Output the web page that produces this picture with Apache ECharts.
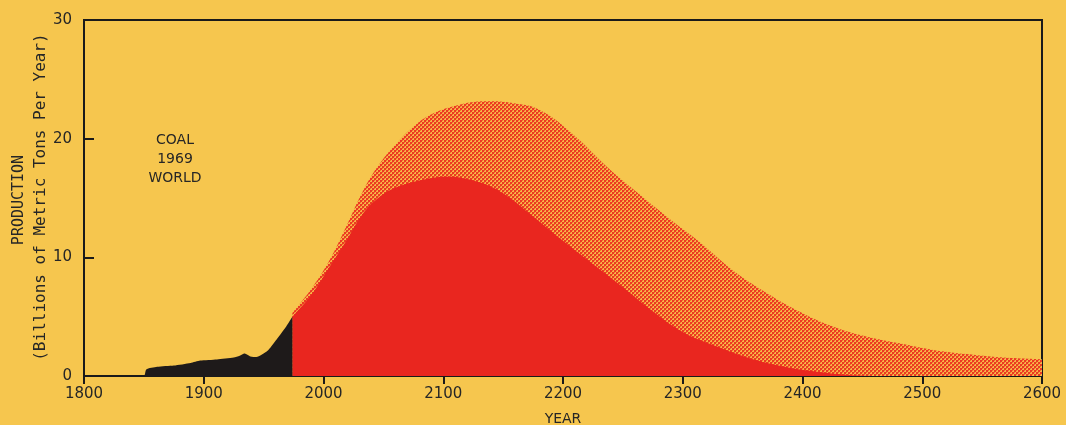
<!DOCTYPE html>
<html>
<head>
<meta charset="utf-8">
<script src="https://cdn.jsdelivr.net/npm/echarts@6/dist/echarts.min.js"></script>
<style>
html,body{margin:0;padding:0;background:#f6c64e;}
#c{width:1066px;height:425px;}
</style>
</head>
<body>
<div id="c"></div>
<script>
// Historical production (black)
var histYears  = [1800, 1850, 1852, 1861, 1875, 1889, 1897, 1911, 1925, 1930, 1934, 1939, 1944, 1953, 1961, 1969, 1974];
var histValues = [0,    0,    0.55, 0.77, 0.88, 1.1,  1.3,  1.4,  1.55, 1.7,  1.9,  1.65, 1.6,  2.1,  3.1,  4.2,  5.0];
// Lower projection (solid red)
var redYears  = [1974, 1991, 2005, 2019, 2033, 2047, 2061, 2081, 2103, 2131, 2153, 2172, 2200, 2228, 2256, 2273, 2300, 2328, 2356, 2384, 2412, 2440, 2460];
var redValues = [5.0,  7.0,  9.2,  11.4, 13.7, 15.1, 15.9, 16.5, 16.8, 16.3, 15.2, 13.7, 11.4, 9.2,  7.0,  5.6,  3.7,  2.5,  1.5,  0.8,  0.36, 0.08, 0];
// Upper projection (hatched)
var hatchYears  = [1974, 1991, 2005, 2019, 2033, 2047, 2061, 2075, 2089, 2111, 2136, 2158, 2181, 2208, 2237, 2264, 2292, 2314, 2342, 2370, 2398, 2426, 2454, 2481, 2509, 2537, 2565, 2600];
var hatchValues = [5.3,  7.5,  9.75, 12.6, 15.6, 17.9, 19.6, 21.0, 22.0, 22.8, 23.15,23.0, 22.4, 20.4, 17.6, 15.3, 13.0, 11.3, 8.9,  7.0,  5.4,  4.15, 3.3,  2.75, 2.2,  1.85, 1.57, 1.4];

var xTicks = [1800, 1900, 2000, 2100, 2200, 2300, 2400, 2500, 2600];
var yTicks = [0, 10, 20, 30];

function zip(a, b) { return a.map(function (v, i) { return [v, b[i]]; }); }

var RED = '#e9261f';
var BG = '#f6c64e';
var INK = '#262626';

var pat = document.createElement('canvas');
pat.width = 4; pat.height = 4;
var pc = pat.getContext('2d');
pc.fillStyle = '#f7b548';
pc.fillRect(0, 0, 4, 4);
pc.fillStyle = '#ec3a22';
pc.fillRect(0, 0, 2, 2);
pc.fillRect(2, 2, 2, 2);
pc.fillStyle = '#f06a30';
pc.fillRect(2, 0, 1, 1);
pc.fillRect(0, 2, 1, 1);

var chart = echarts.init(document.getElementById('c'), null, {renderer: 'canvas'});
chart.setOption({
  backgroundColor: BG,
  animation: false,
  grid: {left: 84, right: 24, top: 20, bottom: 49, outerBoundsMode: 'none', containLabel: false,
    show: true, borderColor: '#1a1a1a', borderWidth: 2, backgroundColor: 'transparent'},
  xAxis: {
    type: 'value', min: xTicks[0], max: xTicks[xTicks.length - 1], interval: 100,
    name: 'YEAR', nameLocation: 'middle', nameGap: 36,
    nameTextStyle: {color: INK, fontSize: 14, fontFamily: 'DejaVu Sans'},
    axisLine: {show: true, lineStyle: {color: '#1a1a1a', width: 2}},
    axisTick: {show: true, length: 8, lineStyle: {color: '#1a1a1a', width: 2}},
    axisLabel: {color: INK, fontSize: 15, margin: 11, fontFamily: 'DejaVu Sans', formatter: function (v) { return String(v); }},
    splitLine: {show: false}
  },
  yAxis: {
    type: 'value', min: yTicks[0], max: yTicks[yTicks.length - 1], interval: 10,
    axisLine: {show: true, lineStyle: {color: '#1a1a1a', width: 2}},
    axisTick: {show: true, inside: true, length: 10, lineStyle: {color: '#1a1a1a', width: 2}},
    axisLabel: {color: INK, fontSize: 15, margin: 12, fontFamily: 'DejaVu Sans', formatter: function (v) { return String(v); }},
    splitLine: {show: false}
  },
  graphic: [
    {type: 'text', x: 175, y: 131, style: {text: 'COAL\n1969\nWORLD', fill: INK, font: '14px "DejaVu Sans"', textAlign: 'center', lineHeight: 19}},
    {type: 'text', x: 19, y: 200, rotation: Math.PI / 2, style: {text: 'PRODUCTION', fill: INK, font: '15px "DejaVu Sans Mono"', textAlign: 'center', textVerticalAlign: 'middle'}},
    {type: 'text', x: 41, y: 197, rotation: Math.PI / 2, style: {text: '(Billions of Metric Tons Per Year)', fill: INK, font: '16px "DejaVu Sans Mono"', textAlign: 'center', textVerticalAlign: 'middle'}}
  ],
  series: [
    {type: 'line', data: zip(hatchYears, hatchValues), smooth: 0.4, symbol: 'none', lineStyle: {width: 0},
      areaStyle: {color: {image: pat, repeat: 'repeat'}, opacity: 1}, z: 2},
    {type: 'line', data: zip(redYears, redValues), smooth: 0.4, symbol: 'none', lineStyle: {width: 0},
      areaStyle: {color: RED, opacity: 1}, z: 3},
    {type: 'line', data: zip(histYears, histValues), smooth: 0.2, symbol: 'none', lineStyle: {width: 0},
      areaStyle: {color: '#1e1a1a', opacity: 1}, z: 4}
  ]
});
</script>
</body>
</html>
